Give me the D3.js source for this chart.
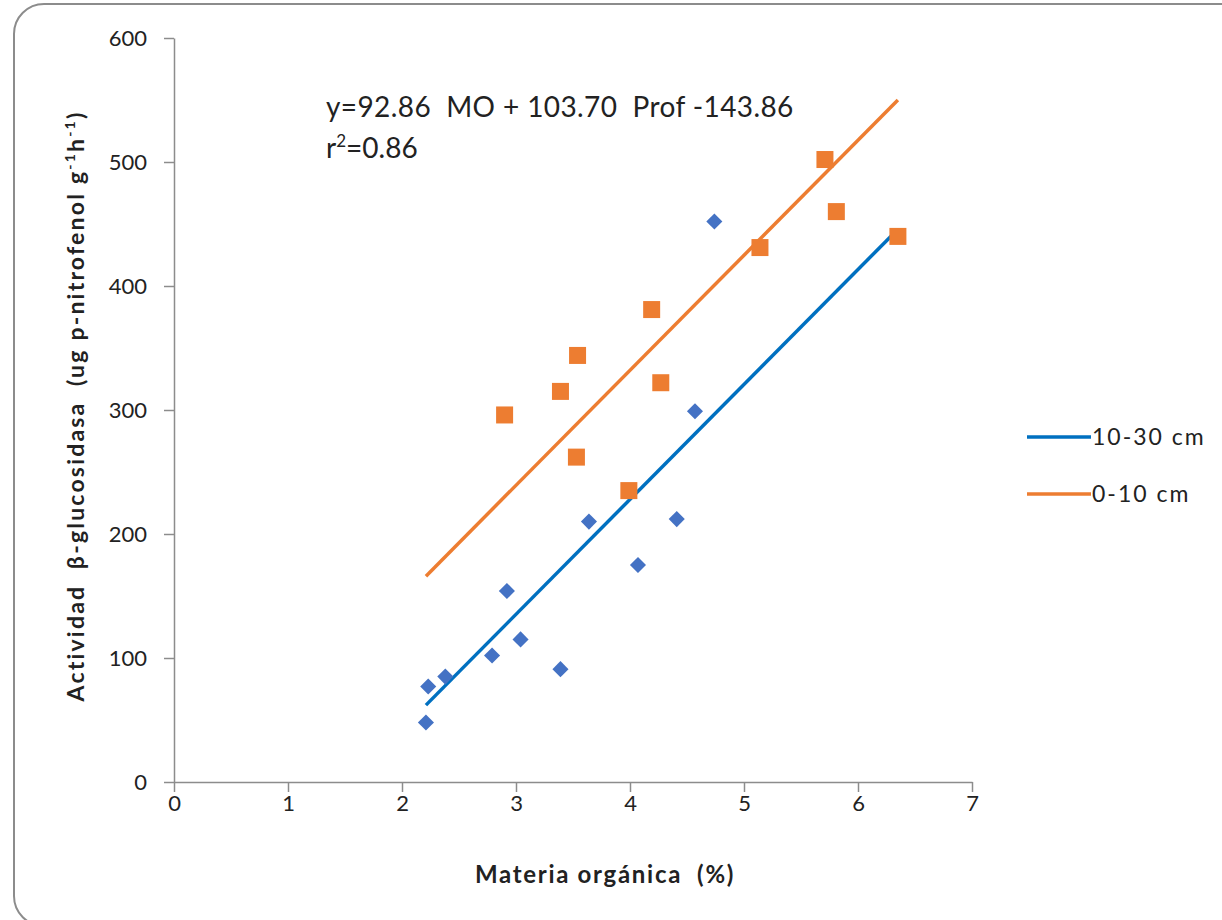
<!DOCTYPE html>
<html><head><meta charset="utf-8">
<script src="https://cdn.jsdelivr.net/npm/d3@7"></script>
<style>body{margin:0;background:#fff}svg{display:block}text{font-family:Lato,"Open Sans",sans-serif;white-space:pre}</style>
</head><body><svg id="c" width="1222" height="920"></svg>
<script>
// Data (MO %, actividad)
const deepX = [2.21, 2.23, 2.38, 2.79, 2.92, 3.04, 3.39, 3.64, 4.07, 4.41, 4.57, 4.74];
const deepY = [48, 77, 85, 102, 154, 115, 91, 210, 175, 212, 299, 452];
const topX = [2.90, 3.39, 3.54, 3.53, 3.99, 4.19, 4.27, 5.14, 5.71, 5.81, 6.35];
const topY = [296, 315, 344, 262, 235, 381, 322, 431, 502, 460, 440];
const deepLineX = [2.21, 6.32];
const deepLineY = [62, 443];
const topLineX = [2.21, 6.35];
const topLineY = [166, 550];
const xTicks = [0, 1, 2, 3, 4, 5, 6, 7];
const yTicks = [0, 100, 200, 300, 400, 500, 600];
const seriesNames = ["10-30 cm", "0-10 cm"];
const lineColors = ["#0070c0", "#ed7d31"];
const markerColors = ["#4472c4", "#ed7d31"];

const svg = d3.select("#c");
svg.append("rect").attr("x", 14).attr("y", 4).attr("width", 1240).attr("height", 922)
  .attr("rx", 30).attr("fill", "#fff").attr("stroke", "#8c8c8c").attr("stroke-width", 2);

const x = d3.scaleLinear().domain([0, 7]).range([174, 972]);
const y = d3.scaleLinear().domain([0, 600]).range([782, 38]);

const ax = svg.append("g").attr("transform", "translate(0,782)")
  .call(d3.axisBottom(x).tickValues(xTicks).tickFormat(d3.format("d")).tickSize(10).tickSizeOuter(0).tickPadding(3));
const ay = svg.append("g").attr("transform", "translate(174,0)")
  .call(d3.axisLeft(y).tickValues(yTicks).tickFormat(d3.format("d")).tickSize(10).tickSizeOuter(0).tickPadding(17));
[ax, ay].forEach(g => {
  g.selectAll("path,line").attr("stroke", "#8c8c8c").attr("stroke-width", 1.5);
  g.selectAll("text").attr("font-size", 22).attr("fill", "#222").style("font-family", "Lato, sans-serif");
});

const clr = svg.append("g");
// lines
[[deepLineX, deepLineY], [topLineX, topLineY]].forEach((d, i) => {
  clr.append("line").attr("x1", x(d[0][0])).attr("y1", y(d[1][0]))
    .attr("x2", x(d[0][1])).attr("y2", y(d[1][1]))
    .attr("stroke", lineColors[i]).attr("stroke-width", 3.5);
});
// markers
const sym = d3.symbol().type(d3.symbolDiamond2).size(165);
clr.selectAll(".dm").data(deepX.map((v, i) => [v, deepY[i]])).join("path")
  .attr("d", sym).attr("transform", d => `translate(${x(d[0])},${y(d[1])})`)
  .attr("fill", markerColors[0]);
clr.selectAll(".sq").data(topX.map((v, i) => [v, topY[i]])).join("rect")
  .attr("x", d => x(d[0]) - 8.5).attr("y", d => y(d[1]) - 8.5)
  .attr("width", 17).attr("height", 17).attr("fill", markerColors[1]);

// equation
svg.append("text").attr("x", 326).attr("y", 117).attr("font-size", 28).attr("letter-spacing", 0.4)
  .attr("fill", "#222").text("y=92.86  MO + 103.70  Prof -143.86");
const r2 = svg.append("text").attr("x", 326).attr("y", 158).attr("font-size", 28).attr("fill", "#222");
r2.append("tspan").text("r");
r2.append("tspan").attr("font-size", 17).attr("dy", -11).text("2");
r2.append("tspan").attr("dy", 11).text("=0.86");

// axis titles
svg.append("text").attr("x", 605).attr("y", 883).attr("text-anchor", "middle")
  .attr("font-size", 24).attr("letter-spacing", 1.7).attr("font-weight", "bold").attr("fill", "#222")
  .text("Materia orgánica  (%)");
const yt = svg.append("text").attr("transform", "translate(84,406) rotate(-90)").attr("text-anchor", "middle")
  .attr("font-size", 23).attr("letter-spacing", 2.2).attr("font-weight", "bold").attr("fill", "#222");
yt.append("tspan").text("Actividad  β-glucosidasa  (ug p-nitrofenol g");
yt.append("tspan").attr("font-size", 14).attr("dy", -9).text("-1");
yt.append("tspan").attr("dy", 9).text("h");
yt.append("tspan").attr("font-size", 14).attr("dy", -9).text("-1");
yt.append("tspan").attr("dy", 9).text(")");

// legend
const legY = [437, 494];
seriesNames.forEach((n, i) => {
  svg.append("line").attr("x1", 1027).attr("x2", 1091).attr("y1", legY[i]).attr("y2", legY[i])
    .attr("stroke", lineColors[i]).attr("stroke-width", 3.5);
  svg.append("text").attr("x", 1092).attr("y", legY[i] + 8).attr("font-size", 23).attr("letter-spacing", 2)
    .attr("fill", "#222").text(n);
});
</script></body></html>
